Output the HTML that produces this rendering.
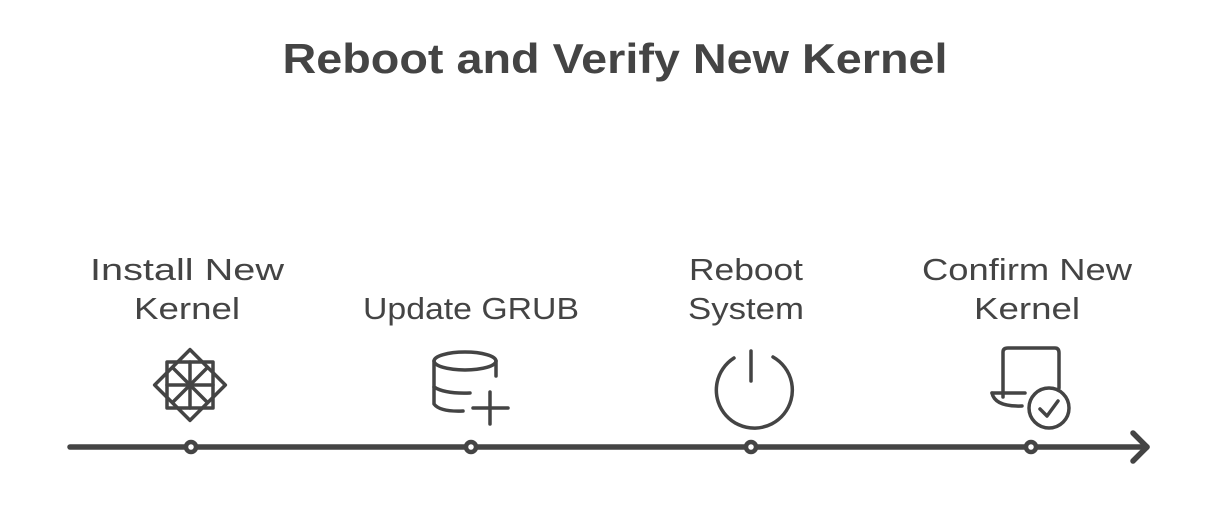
<!DOCTYPE html>
<html><head><meta charset="utf-8"><style>
html,body{margin:0;padding:0;background:#fff;}
svg{display:block;}
text{font-family:"Liberation Sans",sans-serif;fill:#444;}
</style></head><body>
<svg width="1206" height="513" viewBox="0 0 1206 513" xmlns="http://www.w3.org/2000/svg">
<text x="615" y="73" text-anchor="middle" font-size="42" font-weight="bold" textLength="665" lengthAdjust="spacingAndGlyphs">Reboot and Verify New Kernel</text>
<g font-size="31" text-anchor="middle">
<text x="187" y="280" textLength="194" lengthAdjust="spacingAndGlyphs">Install New</text>
<text x="187" y="319" textLength="106" lengthAdjust="spacingAndGlyphs">Kernel</text>
<text x="471" y="319" textLength="216" lengthAdjust="spacingAndGlyphs">Update GRUB</text>
<text x="746" y="280" textLength="114" lengthAdjust="spacingAndGlyphs">Reboot</text>
<text x="746" y="319" textLength="116" lengthAdjust="spacingAndGlyphs">System</text>
<text x="1027" y="280" textLength="210" lengthAdjust="spacingAndGlyphs">Confirm New</text>
<text x="1027" y="319" textLength="106" lengthAdjust="spacingAndGlyphs">Kernel</text>
</g>
<g stroke="#444" fill="none" stroke-linecap="round" stroke-linejoin="round">
<line x1="70" y1="447" x2="1147" y2="447" stroke-width="5.5"/>
<polyline points="1133,433 1147,447 1133,461" stroke-width="5.5"/>
<g stroke-width="3.5">
<rect x="165" y="360" width="50" height="50" transform="rotate(45 190 385)"/>
<rect x="167" y="362" width="46" height="46"/>
<line x1="190" y1="362" x2="190" y2="408"/><line x1="167" y1="385" x2="213" y2="385"/>
<line x1="174" y1="369" x2="206" y2="401"/><line x1="206" y1="369" x2="174" y2="401"/>
</g>
<g stroke-width="3.5">
<ellipse cx="465" cy="361" rx="31" ry="9"/>
<path d="M434 361 V404 Q440 412 463 411"/>
<path d="M496 361 V376"/>
<path d="M434 387 Q445 394 470 393"/>
<line x1="473" y1="408" x2="508" y2="408"/><line x1="490" y1="392" x2="490" y2="424"/>
</g>
<g stroke-width="3.5">
<line x1="751" y1="351" x2="751" y2="381"/>
<path d="M734 358 A38 38 0 1 0 773 357"/>
</g>
<g stroke-width="3.5">
<path d="M1003 397 V352 Q1003 348 1008 348 H1055 Q1059 348 1059 353 V388"/>
<path d="M992 393 H1025"/>
<path d="M992 393 Q995 407 1022 406"/>
<circle cx="1049" cy="408" r="20"/>
<polyline points="1040,409 1047,416 1058,401"/>
</g>
</g>
<g fill="#fff" stroke="#444" stroke-width="4.5">
<circle cx="191" cy="447" r="5"/><circle cx="471" cy="447" r="5"/><circle cx="751" cy="447" r="5"/><circle cx="1031" cy="447" r="5"/>
</g>
</svg>
</body></html>
